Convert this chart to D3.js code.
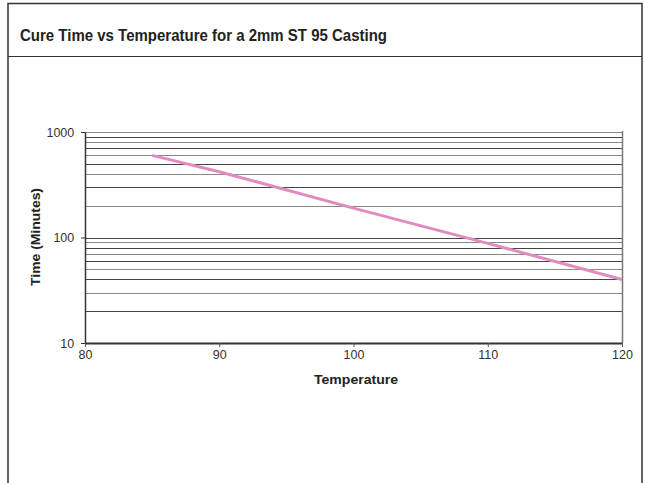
<!DOCTYPE html>
<html><head><meta charset="utf-8">
<script src="https://cdn.jsdelivr.net/npm/d3@7"></script>
<style>body{margin:0;background:#fff}svg{display:block}</style>
</head><body>
<script>
const title = "Cure Time vs Temperature for a 2mm ST 95 Casting";
const temperatures = [85, 90, 100, 110, 120];
const cureTimes = [600, 420, 190, 88, 40];
const xTicks = [80, 90, 100, 110, 120];
const yTicks = [10, 100, 1000];
const yGrid = [20,30,40,50,60,70,80,90,100,200,300,400,500,600,700,800,900,1000];
const xLabel = "Temperature";
const yLabel = "Time (Minutes)";

const W = 645, H = 483;
const svg = d3.select("body").append("svg").attr("width", W).attr("height", H);
svg.append("rect").attr("width", W).attr("height", H).attr("fill", "#fff");

// frame
svg.append("path").attr("d", `M8,${H+5} V3.5 H642 V${H+5}`).attr("fill","none").attr("stroke","#333").attr("stroke-width",1.5);
svg.append("line").attr("x1",8).attr("x2",642).attr("y1",56.5).attr("y2",56.5).attr("stroke","#333").attr("stroke-width",1.2);
svg.append("text").attr("x",20).attr("y",41).text(title)
  .attr("font-family","'Liberation Sans Narrow','Liberation Sans',Arial,sans-serif")
  .attr("font-weight","bold").attr("font-size",17).attr("fill","#222")
  .attr("textLength",367).attr("lengthAdjust","spacingAndGlyphs");

const x = d3.scaleLinear().domain([80,120]).range([85,622]);
const y = d3.scaleLog().domain([10,1000]).range([343,132]);

const g = svg.append("g");
g.selectAll("line.grid").data(yGrid).join("line").attr("class","grid")
  .attr("x1",85).attr("x2",622).attr("y1",d=>Math.round(y(d))+0.5).attr("y2",d=>Math.round(y(d))+0.5)
  .attr("stroke",(d,i)=> (i%2===0? "#444":"#888")).attr("stroke-width",1);

// right border of plot
g.append("line").attr("x1",622.5).attr("x2",622.5).attr("y1",131).attr("y2",343).attr("stroke","#777").attr("stroke-width",1.5);

const xAxis = g.append("g").attr("transform","translate(0,343)")
  .call(d3.axisBottom(x).tickValues(xTicks).tickSize(4).tickSizeOuter(0).tickFormat(d3.format("d")));
xAxis.select(".domain").attr("stroke","#333").attr("stroke-width",2);
xAxis.selectAll(".tick line").attr("stroke","#555");
xAxis.selectAll("text").attr("font-family","Arial,'Liberation Sans',sans-serif").attr("font-size",12.5).attr("fill","#333").attr("dy","0.75em");

const yAxis = g.append("g").attr("transform","translate(85,0)")
  .call(d3.axisLeft(y).tickValues(yTicks).tickSize(4).tickSizeOuter(0).tickFormat(d3.format("d")));
yAxis.select(".domain").attr("stroke","#333").attr("stroke-width",1.5);
yAxis.selectAll(".tick line").attr("stroke","#333");
yAxis.selectAll("text").attr("font-family","Arial,'Liberation Sans',sans-serif").attr("font-size",12.5).attr("fill","#333").attr("dx","-0.3em");

const line = d3.line().x((d,i)=>x(temperatures[i])).y(d=>y(d));
g.append("path").datum(cureTimes).attr("d",line).attr("fill","none")
  .attr("stroke","#e28bc0").attr("stroke-width",3);

svg.append("text").attr("x",356).attr("y",384).attr("text-anchor","middle").text(xLabel)
  .attr("font-family","Arial,'Liberation Sans',sans-serif").attr("font-weight","bold").attr("font-size",13.5).attr("fill","#222")
  .attr("textLength",84).attr("lengthAdjust","spacingAndGlyphs");
svg.append("text").attr("transform","translate(40,237) rotate(-90)").attr("text-anchor","middle").text(yLabel)
  .attr("font-family","Arial,'Liberation Sans',sans-serif").attr("font-weight","bold").attr("font-size",13.5).attr("fill","#222")
  .attr("textLength",98).attr("lengthAdjust","spacingAndGlyphs");
</script>
</body></html>
